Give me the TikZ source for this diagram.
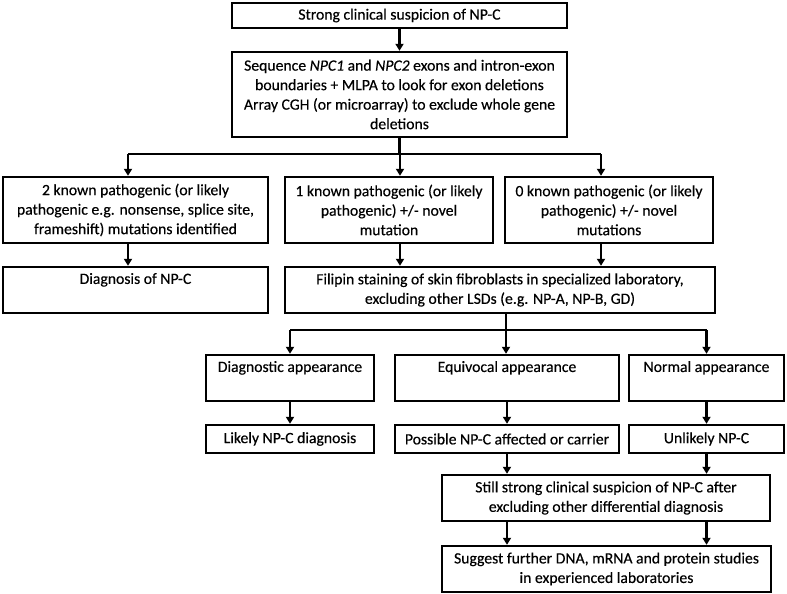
\documentclass[tikz,border=0pt]{standalone}
\usepackage{fontspec}
\setmainfont{Carlito}[FakeBold=0.35]
\usetikzlibrary{arrows.meta}
\begin{document}
\begin{tikzpicture}[x=1pt,y=-1pt,
  box/.style={draw, line width=2.4pt, inner sep=0pt, align=center,
    font=\fontsize{15.7}{19.5}\selectfont},
  toptext/.style={text depth=#1},
  ln/.style={line width=2.2pt},
  arr/.style={line width=2.2pt, -{Triangle[length=7pt,width=8pt]}}]
\useasboundingbox[fill=white] (0,0) rectangle (787,594);

\node[box, minimum width=335pt, minimum height=25pt] (b1) at (399.5,15.5) {Strong clinical suspicion of NP-C};
\node[box, minimum width=335pt, minimum height=85pt] (b2) at (399.5,94.5)
  {Sequence \textit{NPC1} and \textit{NPC2} exons and intron-exon\\boundaries + MLPA to look for exon deletions\\Array CGH (or microarray) to exclude whole gene\\deletions};

\node[box, minimum width=265pt, minimum height=66pt] (ra) at (135.5,210)
  {2 known pathogenic (or likely\\pathogenic e.g. nonsense, splice site,\\frameshift) mutations identified};
\node[box, minimum width=208pt, minimum height=66pt] (rb) at (389,210)
  {1 known pathogenic (or likely\\pathogenic) +/- novel\\mutation};
\node[box, minimum width=208pt, minimum height=66pt] (rc) at (609,210)
  {0 known pathogenic (or likely\\pathogenic) +/- novel\\mutations};

\node[box, toptext=23pt, minimum width=265pt, minimum height=46pt] (dg) at (135.5,290) {Diagnosis of NP-C};
\node[box, minimum width=430pt, minimum height=46pt] (fp) at (500,290)
  {Filipin staining of skin fibroblasts in specialized laboratory,\\excluding other LSDs (e.g. NP-A, NP-B, GD)};

\node[box, toptext=23pt, minimum width=168pt, minimum height=46pt] (ea) at (290,378) {Diagnostic appearance};
\node[box, toptext=23pt, minimum width=224pt, minimum height=46pt] (eb) at (507,378) {Equivocal appearance};
\node[box, toptext=23pt, minimum width=155pt, minimum height=46pt] (ec) at (706.5,378) {Normal appearance};

\node[box, minimum width=168pt, minimum height=28pt] (la) at (290,439) {Likely NP-C diagnosis};
\node[box, minimum width=224pt, minimum height=28pt] (lb) at (507,439) {Possible NP-C affected or carrier};
\node[box, minimum width=155pt, minimum height=28pt] (lc) at (706.5,439) {Unlikely NP-C};

\node[box, minimum width=328pt, minimum height=46pt] (st) at (606,498)
  {Still strong clinical suspicion of NP-C after\\excluding other differential diagnosis};
\node[box, minimum width=329pt, minimum height=46pt] (fn) at (606.5,569)
  {Suggest further DNA, mRNA and protein studies\\in experienced laboratories};

% connectors
\draw[arr] (b1.south) -- (b2.north);
\coordinate (j0) at (399.5,154);
\coordinate (jA) at (128,154);
\coordinate (jB) at (400,154);
\coordinate (jC) at (601,154);
\draw[ln] (b2.south) -- (j0);
\draw[ln] (jA) -- (jC);
\draw[arr] (jA) -- (jA |- ra.north);
\draw[arr] (jB) -- (jB |- rb.north);
\draw[arr] (jC) -- (jC |- rc.north);

\draw[arr] (jA |- ra.south) -- (jA |- dg.north);
\draw[arr] (jB |- rb.south) -- (jB |- fp.north);
\draw[arr] (jC |- rc.south) -- (jC |- fp.north);

\coordinate (k0) at (506,330);
\coordinate (kA) at (290,330);
\coordinate (kC) at (706.5,330);
\draw[ln] (k0 |- fp.south) -- (k0);
\draw[ln] (kA) -- (kC);
\draw[arr] (kA) -- (ea.north);
\draw[arr] (k0) -- (k0 |- eb.north);
\draw[arr] (kC) -- (ec.north);

\draw[arr] (ea.south) -- (la.north);
\draw[arr] (eb.south) -- (lb.north);
\draw[arr] (ec.south) -- (lc.north);

\draw[arr] (lb.south) -- (lb.south |- st.north);
\draw[arr] (lc.south) -- (lc.south |- st.north);
\draw[arr] (lb.south |- st.south) -- (lb.south |- fn.north);
\draw[arr] (lc.south |- st.south) -- (lc.south |- fn.north);
\end{tikzpicture}
\end{document}
